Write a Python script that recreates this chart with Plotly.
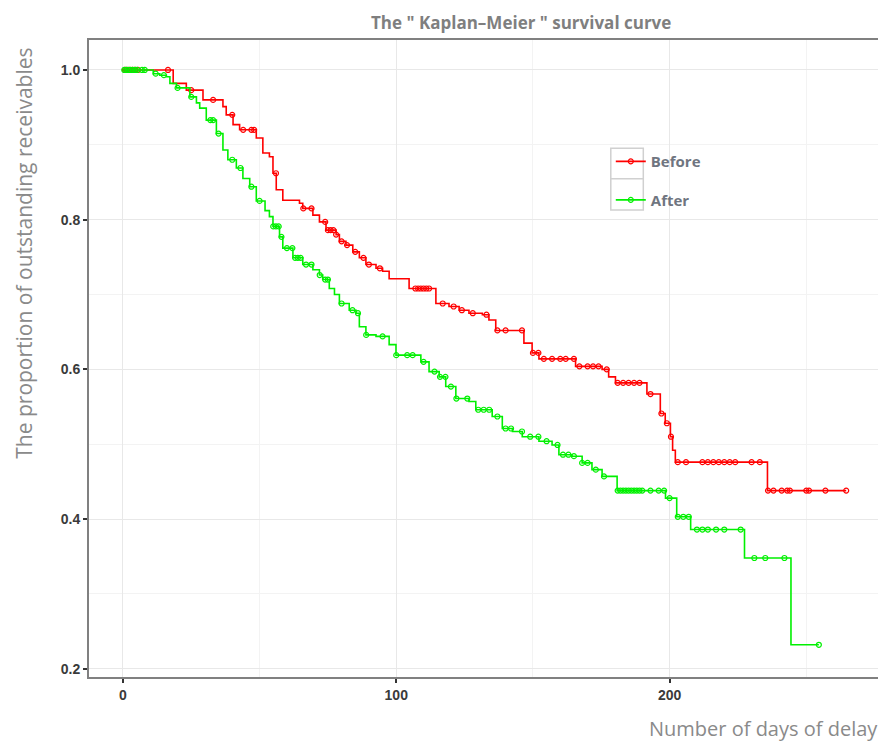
import numpy as np
import plotly.graph_objects as go

# ---- Data ----
before_times = [0, 18.4, 23.2, 29.3, 36.6, 37.8, 40.3, 42.7, 48.8, 51.2, 53.6, 54.9, 56.1, 58.5,
                64.6, 65.8, 69.5, 71.9, 74.3, 78.0, 79.2, 81.6, 84.1, 86.5, 88.9, 92.6, 95.0,
                97.4, 104.7, 114.5, 119.3, 123.0, 126.6, 131.5, 133.9, 136.4, 146.7, 149.7,
                152.2, 165.6, 175.3, 177.7, 180.2, 191.7, 196.6, 198.4, 200.3, 201.1, 202.1,
                235.8]
before_surv = [1.0, 0.982, 0.973, 0.960, 0.951, 0.940, 0.927, 0.920, 0.909, 0.889, 0.884, 0.862,
               0.840, 0.826, 0.822, 0.815, 0.806, 0.797, 0.786, 0.780, 0.771, 0.766, 0.757, 0.749,
               0.740, 0.735, 0.731, 0.721, 0.708, 0.688, 0.684, 0.679, 0.675, 0.673, 0.666, 0.652,
               0.635, 0.622, 0.614, 0.604, 0.600, 0.590, 0.582, 0.567, 0.541, 0.528, 0.510, 0.492,
               0.476, 0.438]
before_end = 264.6
before_censor = [0.8, 1.5, 2.5, 3.5, 4.5, 5.5, 16.5, 25, 33, 40, 44, 47, 48, 56, 66, 69, 74, 75,
                 76, 77, 78, 80, 82, 85, 88, 90, 94, 107, 108, 109, 110, 111, 112, 117, 121, 124,
                 128, 133, 137, 140, 146, 150, 152, 154, 157, 160, 162, 165, 167, 170, 172, 174,
                 177, 181, 183, 185, 187, 189, 193, 197, 199, 200.5, 203, 206, 212, 214, 216, 218,
                 220, 222, 224, 230, 233, 236, 238, 241, 243, 244, 250, 251, 257, 264.6]

after_times = [0, 11.1, 13.5, 15.9, 17.2, 19.6, 24.5, 26.9, 28.1, 30.5, 34.2, 36.6, 38.4, 41.5,
               43.9, 46.4, 48.8, 52.0, 53.6, 54.9, 57.3, 58.5, 62.2, 65.8, 69.5, 71.9, 73.1, 75.5,
               77.4, 79.2, 82.8, 85.3, 86.5, 88.9, 92.6, 97.4, 99.9, 109.0, 112.0, 115.7, 118.1,
               121.8, 126.6, 129.1, 135.1, 138.8, 142.5, 146.1, 152.2, 157.0, 159.5, 164.3, 168.0,
               171.6, 175.3, 180.8, 198.5, 202.6, 207.7, 227.4, 244.4]
after_surv = [1.0, 0.995, 0.993, 0.991, 0.982, 0.976, 0.964, 0.956, 0.949, 0.933, 0.915, 0.893,
              0.880, 0.869, 0.855, 0.844, 0.825, 0.812, 0.804, 0.791, 0.777, 0.762, 0.749, 0.740,
              0.733, 0.726, 0.720, 0.708, 0.700, 0.688, 0.679, 0.675, 0.657, 0.646, 0.644, 0.633,
              0.619, 0.610, 0.597, 0.590, 0.577, 0.561, 0.557, 0.546, 0.537, 0.521, 0.517, 0.510,
              0.504, 0.499, 0.486, 0.484, 0.475, 0.466, 0.457, 0.438, 0.428, 0.403, 0.386, 0.348,
              0.232]
after_end = 254.6
after_censor = [0.5, 1.2, 2, 2.8, 3.6, 4.4, 5.2, 7, 8, 12, 15, 20, 25, 32, 33, 35, 40, 43, 47, 50,
                55, 56, 57, 58, 60, 62, 63, 64, 65, 67, 69, 72, 74, 75, 80, 84, 86, 89, 95, 100,
                104, 106, 110, 114, 116, 118, 120, 122, 126, 130, 132, 134, 137, 140, 142, 146,
                149, 152, 155, 159, 161, 163, 165, 168, 170, 173, 176, 181, 182, 183, 184, 185,
                186, 187, 188, 189, 190, 193, 196, 198, 200, 203, 205, 207, 210, 212, 214, 217,
                220, 226, 231, 235, 242, 254.6]

x_ticks = [0, 100, 200]
y_ticks = [0.2, 0.4, 0.6, 0.8, 1.0]

RED = "#FF0000"
GREEN = "#00F000"


def step_lookup(times, surv, t):
    idx = np.searchsorted(np.array(times), np.array(t), side="right") - 1
    return [surv[i] for i in idx]


fig = go.Figure()
for name, times, surv, end, cens, col, grp in [
    ("Before", before_times, before_surv, before_end, before_censor, RED, "b"),
    ("After", after_times, after_surv, after_end, after_censor, GREEN, "a"),
]:
    fig.add_trace(go.Scatter(
        x=list(times) + [end], y=list(surv) + [surv[-1]], mode="lines",
        line=dict(color=col, width=1.6, shape="hv"), showlegend=False, hoverinfo="skip"))
    fig.add_trace(go.Scatter(
        x=cens, y=step_lookup(times, surv, cens), mode="markers",
        marker=dict(symbol="circle-open", size=5, color=col, line=dict(width=1.2)),
        showlegend=False))
    fig.add_trace(go.Scatter(
        x=[None], y=[None], mode="lines+markers", name=name, legendgroup=grp,
        line=dict(color=col, width=1.6),
        marker=dict(symbol="circle-open", size=5, color=col, line=dict(width=1.2))))

axis_common = dict(
    showline=True, mirror=True, linecolor="#808080", linewidth=2,
    ticks="outside", ticklen=4, tickcolor="#333333", tickwidth=1.5,
    gridcolor="#e8e8e8", gridwidth=1.3, zeroline=False,
    tickfont=dict(family="Liberation Sans, Arial", size=14, color="#3a3a3a", weight="bold"),
)

GRID_LEGEND_BOX = "#d0d0d0"

fig.update_layout(
    width=878, height=734,
    margin=dict(l=81, r=2, t=32, b=65),
    paper_bgcolor="white", plot_bgcolor="white",
    showlegend=True,
    legend=dict(x=0.658, y=0.835, xanchor="left", yanchor="top",
                bgcolor="rgba(255,255,255,0)", borderwidth=0,
                font=dict(family="Open Sans", size=15, color="#6f7580", weight="bold"),
                traceorder="grouped", tracegroupgap=16),
    xaxis=dict(range=[-12.4, 277.7], tickvals=x_ticks, **axis_common,
               minor=dict(dtick=50, tick0=0, showgrid=True, gridcolor="#f3f3f3", ticks="")),
    yaxis=dict(range=[0.189, 1.040], tickvals=y_ticks, tickformat=".1f", **axis_common,
               minor=dict(dtick=0.1, tick0=0.2, showgrid=True, gridcolor="#f3f3f3", ticks="")),
    shapes=[
        dict(type="rect", xref="paper", yref="paper", x0=0.658, x1=0.699, y0=0.733, y1=0.830,
             line=dict(color=GRID_LEGEND_BOX, width=1.5), fillcolor="rgba(0,0,0,0)"),
        dict(type="line", xref="paper", yref="paper", x0=0.658, x1=0.699, y0=0.782, y1=0.782,
             line=dict(color=GRID_LEGEND_BOX, width=1.5)),
    ],
    annotations=[
        dict(text="<b>The \" Kaplan–Meier \" survival curve</b>", xref="paper", yref="paper",
             x=0.545, y=1.028, xanchor="center", yanchor="middle", showarrow=False,
             font=dict(family="Open Sans", size=17, color="#7f7f7f")),
        dict(text="Number of days of delay", xref="paper", yref="paper",
             x=0.998, y=-0.0816, xanchor="right", yanchor="middle", showarrow=False,
             font=dict(family="Open Sans", size=20, color="#8a8a8a")),
        dict(text="The proportion of outstanding receivables", xref="paper", yref="paper",
             x=-0.082, y=0.666, xanchor="center", yanchor="middle", textangle=-90,
             showarrow=False,
             font=dict(family="Open Sans", size=21, color="#8a8a8a")),
    ],
)

fig.write_html("out.html")
